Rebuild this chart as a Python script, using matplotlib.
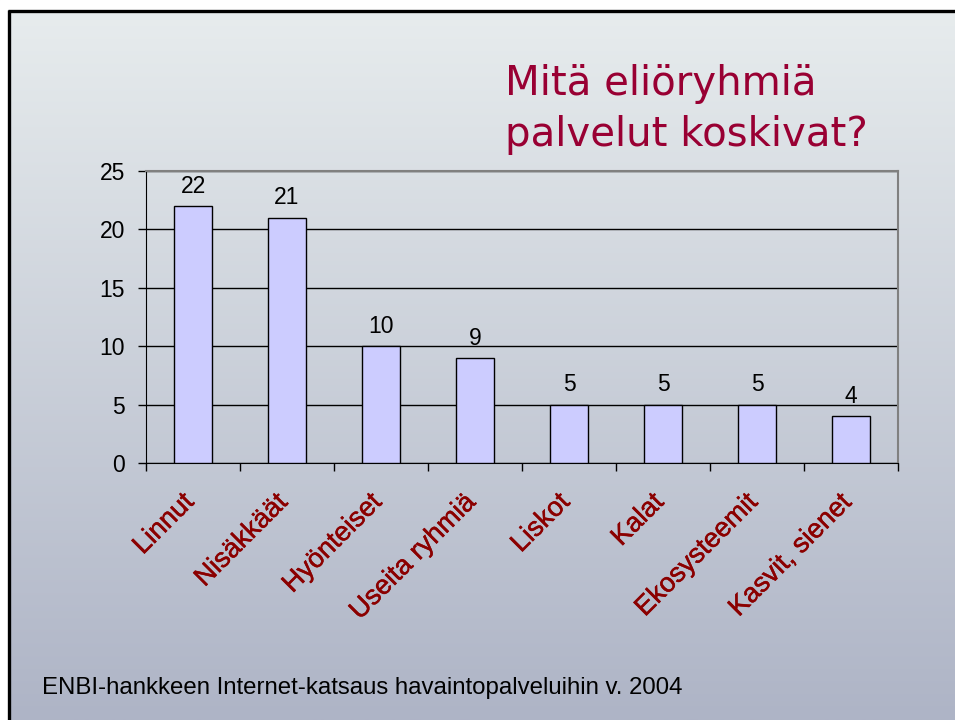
import matplotlib.pyplot as plt
import matplotlib.transforms as mtransforms
import matplotlib.patheffects as pe
import numpy as np
from matplotlib.colors import LinearSegmentedColormap

plt.rcParams["font.family"] = ["Liberation Sans", "DejaVu Sans"]

categories = ["Linnut", "Nisäkkäät", "Hyönteiset", "Useita ryhmiä",
              "Liskot", "Kalat", "Ekosysteemit", "Kasvit, sienet"]
values = [22, 21, 10, 9, 5, 5, 5, 4]
yticks = [0, 5, 10, 15, 20, 25]

TITLE = "Mitä eliöryhmiä\npalvelut koskivat?"
SOURCE = "ENBI-hankkeen Internet-katsaus havaintopalveluihin v. 2004"

fig = plt.figure(figsize=(9.55, 7.2), dpi=100)

# slide background: vertical gradient
bg = fig.add_axes([0, 0, 1, 1], zorder=-10)
cmap = LinearSegmentedColormap.from_list("slide", ["#AEB4C6", "#E8EDEE"])
grad = np.linspace(0, 1, 256).reshape(-1, 1)
bg.imshow(grad, aspect="auto", cmap=cmap, origin="lower", extent=[0, 1, 0, 1])
bg.set_xlim(0, 1)
bg.set_ylim(0, 1)
bg.axis("off")
# white strip and black frame at top / left
bg.axhspan(1 - 9 / 720, 1, color="white")
bg.axvspan(0, 7 / 955, color="white")
bg.plot([7.5 / 955, 1], [1 - 10.5 / 720] * 2, color="black", lw=2.4, solid_capstyle="butt")
bg.plot([8.5 / 955] * 2, [0, 1 - 9.5 / 720], color="black", lw=2.4, solid_capstyle="butt")

ax = fig.add_axes([146 / 955, 1 - 463 / 720, 752 / 955, 292 / 720])
ax.patch.set_alpha(0)

x = np.arange(len(categories))
bars = ax.bar(x, values, 0.4, color="#CCCCFF", edgecolor="black", linewidth=1, zorder=3)

for xi, v in zip(x, values):
    ax.annotate(str(v), (xi, v), xytext=(0, 6), textcoords="offset points",
                ha="center", va="bottom", fontsize=16.5, color="black")

ax.set_xlim(-0.5, len(categories) - 0.5)
ax.set_ylim(0, 25)
ax.set_yticks(yticks)
ax.tick_params(axis="y", labelsize=16.5, length=6, width=1, direction="out", pad=9)
ax.yaxis.grid(True, color="black", linewidth=1)
ax.set_axisbelow(True)

ax.set_xticks(x)
ax.set_xticks(np.arange(len(categories) + 1) - 0.5, minor=True)
ax.tick_params(axis="x", which="major", length=0)
ax.tick_params(axis="x", which="minor", length=6, width=1, direction="out")
ax.set_xticklabels(categories, rotation=45, ha="right", va="top",
                   rotation_mode="anchor", fontsize=19.5, color="#8B0000")
offset = mtransforms.ScaledTranslation(-12 / 100, -21 / 100, fig.dpi_scale_trans)
for lab in ax.get_xticklabels():
    lab.set_transform(lab.get_transform() + offset)
    lab.set_path_effects([pe.withStroke(linewidth=0.35, foreground="#8B0000")])

for side in ["left", "bottom"]:
    ax.spines[side].set_color("black")
for side in ["top", "right"]:
    ax.spines[side].set_color("#808080")
    ax.spines[side].set_linewidth(1.5)

fig.text(505 / 955, 1 - 64 / 720, TITLE, ha="left", va="top", fontsize=29,
         color="#990033", family="DejaVu Sans", linespacing=1.35)
fig.text(42 / 955, 1 - 688 / 720, SOURCE, ha="left", va="center", fontsize=17.3,
         color="black")

fig.savefig("out.png", dpi=100)
